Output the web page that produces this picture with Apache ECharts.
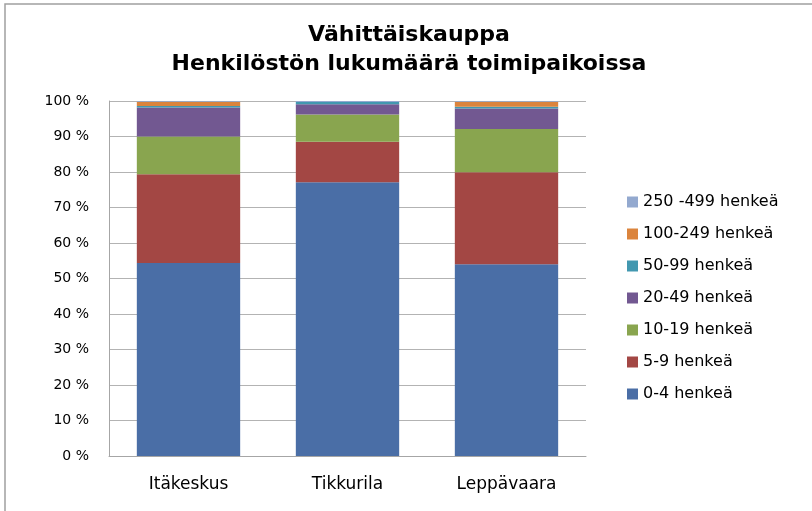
<!DOCTYPE html>
<html>
<head>
<meta charset="utf-8">
<script src="https://cdn.jsdelivr.net/npm/echarts@6/dist/echarts.min.js"></script>
<style>
  html, body { margin: 0; padding: 0; background: #fff; }
  #chart { width: 812px; height: 511px; }
</style>
</head>
<body>
<div id="chart"></div>
<script>
// Store locations
const categories = ['Itäkeskus', 'Tikkurila', 'Leppävaara'];

// Staff-size classes (bottom to top) and their shares, percent
const seriesNames = ['0-4 henkeä', '5-9 henkeä', '10-19 henkeä', '20-49 henkeä', '50-99 henkeä', '100-249 henkeä', '250 -499 henkeä'];
const share0to4     = [54.4, 77.1, 54.0];
const share5to9     = [25.0, 11.4, 25.9];
const share10to19   = [10.6, 7.7, 12.2];
const share20to49   = [8.2, 2.9, 5.8];
const share50to99   = [0.4, 0.6, 0.5];
const share100to249 = [1.2, 0.0, 1.4];
const share250to499 = [0.2, 0.3, 0.2];

const yTicks = [0, 10, 20, 30, 40, 50, 60, 70, 80, 90, 100];

const colors = ['#4a6ea6', '#a34744', '#89a54f', '#725891', '#4298b0', '#db843d', '#93a9cf'];
const values = [share0to4, share5to9, share10to19, share20to49, share50to99, share100to249, share250to499];

const font = '"DejaVu Sans", sans-serif';

const chart = echarts.init(document.getElementById('chart'), null, { renderer: 'canvas' });

chart.setOption({
  animation: false,
  backgroundColor: '#fff',
  color: colors,
  graphic: [{
    type: 'rect',
    shape: { x: 5, y: 4, width: 900, height: 600 },
    style: { fill: 'none', stroke: '#a0a0a0', lineWidth: 1.5 },
    silent: true
  }],
  title: {
    text: 'Vähittäiskauppa\nHenkilöstön lukumäärä toimipaikoissa',
    left: 404,
    textAlign: 'center',
    top: 16,
    textStyle: { fontFamily: font, fontWeight: 'bold', fontSize: 22, color: '#000', lineHeight: 29 }
  },
  legend: {
    orient: 'vertical',
    left: 622,
    top: 189,
    itemWidth: 11,
    itemHeight: 11,
    itemGap: 16,
    icon: 'rect',
    data: seriesNames.slice().reverse(),
    textStyle: { fontFamily: font, fontSize: 16, lineHeight: 16, color: '#000' }
  },
  grid: { left: 109, right: 226, top: 101, bottom: 55 },
  xAxis: {
    type: 'category',
    data: categories,
    axisLine: { lineStyle: { color: '#a6a6a6', width: 1 } },
    axisTick: { show: false },
    axisLabel: { fontFamily: font, fontSize: 17, color: '#000', margin: 20 }
  },
  yAxis: {
    type: 'value',
    min: yTicks[0],
    max: yTicks[yTicks.length - 1],
    interval: 10,
    axisLine: { show: true, lineStyle: { color: '#a6a6a6', width: 1 } },
    axisTick: { show: false },
    splitLine: { lineStyle: { color: '#b3b3b3', width: 1 } },
    axisLabel: { fontFamily: font, fontSize: 14, color: '#000', margin: 20, formatter: v => v + ' %' }
  },
  series: seriesNames.map((name, i) => ({
    name: name,
    type: 'bar',
    stack: 'total',
    barWidth: '65%',
    data: values[i],
    itemStyle: { color: colors[i] }
  }))
});
</script>
</body>
</html>
